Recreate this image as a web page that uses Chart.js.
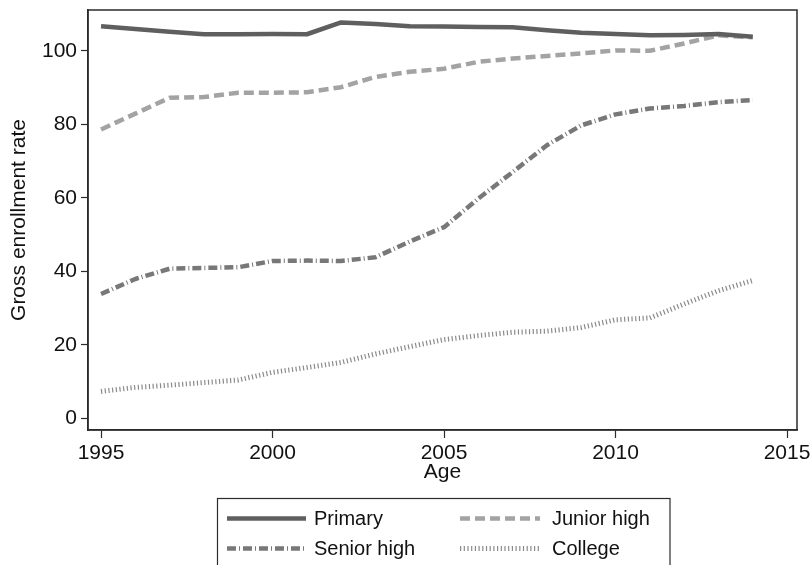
<!DOCTYPE html>
<html>
<head>
<meta charset="utf-8">
<script src="https://cdn.jsdelivr.net/npm/chart.js@4.4.1/dist/chart.umd.min.js"></script>
<style>
  html, body { margin: 0; padding: 0; background: #fff; }
  #wrap { width: 811px; height: 565px; }
</style>
</head>
<body>
<div id="wrap"><canvas id="chart" width="811" height="565"></canvas></div>
<script>
const years = [1995, 1996, 1997, 1998, 1999, 2000, 2001, 2002, 2003, 2004,
               2005, 2006, 2007, 2008, 2009, 2010, 2011, 2012, 2013, 2014];

const primary = [106.7, 105.9, 105.2, 104.5, 104.5, 104.6, 104.5, 107.7, 107.3, 106.7,
                 106.6, 106.5, 106.4, 105.6, 104.9, 104.6, 104.2, 104.3, 104.6, 103.8];
const juniorHigh = [78.6, 82.9, 87.2, 87.4, 88.6, 88.6, 88.7, 90.1, 92.9, 94.3,
                    95.1, 97.0, 97.9, 98.6, 99.3, 100.1, 100.0, 102.0, 104.2, 103.7];
const seniorHigh = [33.8, 37.9, 40.7, 40.9, 41.1, 42.8, 42.9, 42.8, 43.8, 48.1,
                    52.0, 59.8, 67.0, 74.3, 79.7, 82.7, 84.3, 85.0, 86.0, 86.6];
const college = [7.3, 8.4, 9.0, 9.7, 10.4, 12.5, 13.8, 15.2, 17.5, 19.5,
                 21.4, 22.5, 23.4, 23.7, 24.7, 26.8, 27.3, 31.1, 34.7, 37.5];

const seriesNames = ["Primary", "Junior high", "Senior high", "College"];
const xTicks = [1995, 2000, 2005, 2010, 2015];
const yTicks = [0, 20, 40, 60, 80, 100];

const FONT = "'Liberation Sans', Arial, Helvetica, sans-serif";

function pts(vals) {
  return years.map((yr, i) => ({ x: yr, y: vals[i] }));
}

// line styles (Stata-like)
const styles = [
  { color: "#5f5f5f", width: 4.5, dash: [] },
  { color: "#a3a3a3", width: 4.5, dash: [10, 5] },
  { color: "#787878", width: 4.5, dash: [9, 3, 1, 3] },
  { color: "#8a8a8a", width: 5, dash: [1.2, 2.5] }
];

const datasets = [primary, juniorHigh, seniorHigh, college].map((vals, i) => ({
  label: seriesNames[i],
  data: pts(vals),
  borderColor: styles[i].color,
  borderWidth: styles[i].width,
  borderDash: styles[i].dash,
  borderCapStyle: "butt",
  borderJoinStyle: "round",
  pointRadius: 0,
  fill: false,
  tension: 0,
  order: i
}));

// full box around plot area
const frame = {
  id: "frame",
  afterDatasetsDraw(chart) {
    const { ctx, chartArea: a } = chart;
    ctx.save();
    ctx.strokeStyle = "#2b2b2b";
    ctx.lineWidth = 1.5;
    ctx.strokeRect(a.left, a.top, a.right - a.left, a.bottom - a.top);
    ctx.restore();
  }
};

// legend box below the axis, 2 columns, line samples
const stataLegend = {
  id: "stataLegend",
  afterDraw(chart) {
    const ctx = chart.ctx;
    const box = { left: 217.5, top: 498.5, right: 670 };
    const cols = [{ x0: 227, x1: 306, tx: 314 }, { x0: 460, x1: 540, tx: 552 }];
    const rows = [518.5, 548.5];
    ctx.save();
    ctx.strokeStyle = "#2b2b2b";
    ctx.lineWidth = 1.2;
    ctx.strokeRect(box.left, box.top, box.right - box.left, 120);
    chart.data.datasets.forEach((d, i) => {
      const c = cols[i % 2], y = rows[Math.floor(i / 2)];
      ctx.beginPath();
      ctx.setLineDash(d.borderDash);
      ctx.lineCap = "butt";
      ctx.strokeStyle = d.borderColor;
      ctx.lineWidth = d.borderWidth;
      ctx.moveTo(c.x0, y);
      ctx.lineTo(c.x1, y);
      ctx.stroke();
      ctx.setLineDash([]);
      ctx.fillStyle = "#111";
      ctx.font = "20px " + FONT;
      ctx.textBaseline = "middle";
      ctx.fillText(d.label, c.tx, y + 1);
    });
    ctx.restore();
  }
};

new Chart(document.getElementById("chart"), {
  type: "line",
  data: { datasets },
  plugins: [frame, stataLegend],
  options: {
    responsive: false,
    animation: false,
    layout: { padding: { top: 10, right: 14, left: 0, bottom: 0 } },
    plugins: { legend: { display: false }, tooltip: { enabled: false } },
    scales: {
      x: {
        type: "linear",
        min: 1994.62,
        max: 2015.29,
        afterBuildTicks: s => { s.ticks = xTicks.map(v => ({ value: v })); },
        afterFit: s => { s.height = 135; s.paddingLeft = 0; s.paddingRight = 0; },
        grid: { drawOnChartArea: false, drawTicks: true, tickLength: 8, tickColor: "#2b2b2b", tickWidth: 1.2 },
        border: { color: "#2b2b2b", width: 1.5 },
        ticks: { color: "#111", font: { family: FONT, size: 21 }, padding: 3, maxRotation: 0, autoSkip: false,
                 callback: v => String(v) },
        title: { display: true, text: "Age", color: "#111", font: { family: FONT, size: 21 }, padding: { top: 0, bottom: 80 } }
      },
      y: {
        min: -3.2,
        max: 111.1,
        afterBuildTicks: s => { s.ticks = yTicks.map(v => ({ value: v })); },
        afterFit: s => { s.width = 88; s.paddingTop = 0; s.paddingBottom = 0; },
        grid: { drawOnChartArea: false, drawTicks: true, tickLength: 7, tickColor: "#2b2b2b", tickWidth: 1.2 },
        border: { color: "#2b2b2b", width: 1.5 },
        ticks: { color: "#111", font: { family: FONT, size: 21 }, padding: 4, callback: v => String(v) },
        title: { display: true, text: "Gross enrollment rate", color: "#111", font: { family: FONT, size: 21 }, padding: { top: 7, bottom: 0 } }
      }
    }
  }
});
</script>
</body>
</html>
